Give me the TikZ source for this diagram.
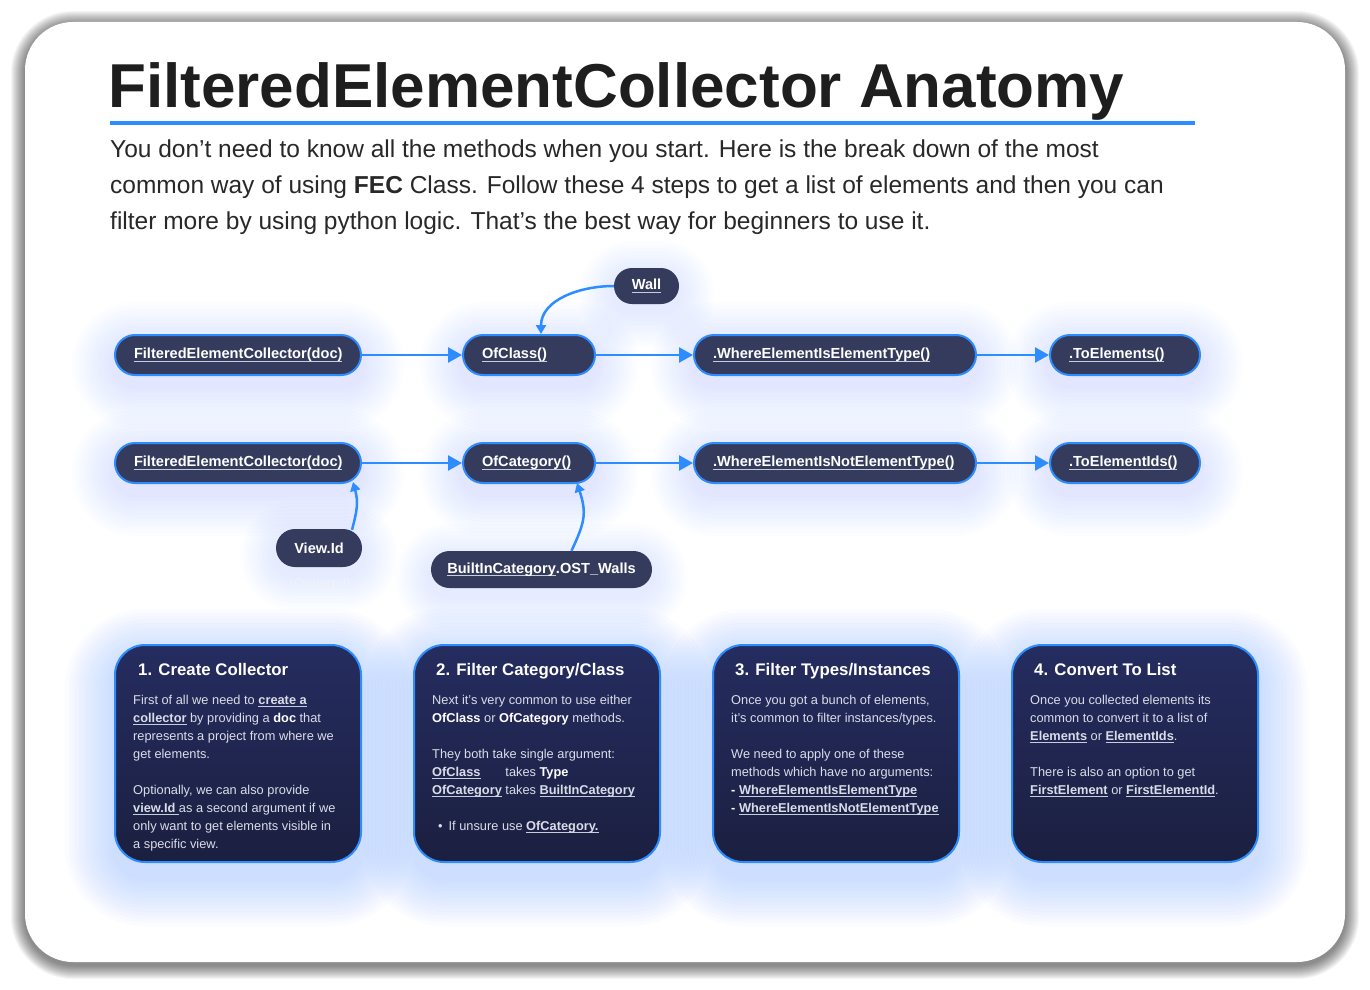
\documentclass[tikz,border=0pt]{standalone}
\usepackage{fontspec}
\setmainfont{Liberation Sans}
\usetikzlibrary{arrows.meta,calc}
\pgfdeclarelayer{background}
\pgfsetlayers{background,main}
\definecolor{bluec}{RGB}{45,140,255}
\definecolor{nodef}{RGB}{53,59,92}
\definecolor{cardtop}{RGB}{37,45,96}
\definecolor{cardbot}{RGB}{27,31,64}
\definecolor{glowc}{RGB}{70,140,255}
\definecolor{titlec}{RGB}{30,30,30}
\definecolor{parac}{RGB}{40,40,40}
\definecolor{bodyc}{RGB}{218,221,232}
\definecolor{ulc}{RGB}{200,205,220}
\definecolor{faintc}{RGB}{238,243,252}
\newsavebox\lkbox
\newcommand\lk[1]{\sbox\lkbox{\textbf{#1}}\rlap{\textcolor{ulc}{\rule[-2.8pt]{\wd\lkbox}{0.8pt}}}\textcolor{white}{\usebox\lkbox}}
\newcommand\bw[1]{\textcolor{white}{\textbf{#1}}}
\newcommand\glow[6]{% node, base radius, steps, step, yshift, opacity
  \foreach \k in {1,...,#3}{
    \pgfmathsetmacro\rr{#2+\k*#4}
    \pgfmathsetmacro\dd{\k*#4}
    \pgfmathsetmacro\ta{\dd-#5}
    \pgfmathsetmacro\tb{-\dd-#5}
    \fill[glowc, opacity=#6, rounded corners=\rr pt] ([shift={(-\dd pt,\ta pt)}]#1.north west) rectangle ([shift={(\dd pt,\tb pt)}]#1.south east);
  }}
\tikzset{
  pill/.style={draw=bluec, line width=2pt, fill=nodef, rounded corners=20pt, minimum height=40pt, inner xsep=19pt, inner ysep=0pt, align=left, text=white, font=\fontsize{14.6}{16}\selectfont\bfseries},
  plainpill/.style={fill=nodef, inner xsep=0pt, inner ysep=0pt, text=white, font=\fontsize{14.6}{16}\selectfont\bfseries},
  card/.style={draw=bluec, line width=2pt, top color=cardtop, bottom color=cardbot, rounded corners=30pt, minimum width=246pt, minimum height=217pt, inner sep=0pt},
  ctitle/.style={anchor=base west, inner sep=0pt, text=white, font=\fontsize{16.8}{20}\selectfont\bfseries},
  cbody/.style={anchor=north west, inner sep=0pt, align=left, text=bodyc, font=\fontsize{12.8}{18}\selectfont},
  ptext/.style={anchor=base west, inner sep=0pt, text=parac, font=\fontsize{24.5}{36}\selectfont},
  conn/.style={draw=bluec, line width=2.5pt, -{Triangle[length=14pt,width=15pt]}},
  carrow/.style={draw=bluec, line width=2.5pt, -{Triangle[length=9pt,width=10pt]}},
}
\begin{document}
\begin{tikzpicture}[x=1pt,y=-1pt]
\useasboundingbox (0,0) rectangle (1370,990);
\begin{pgfonlayer}{background}
  \fill[white] (0,0) rectangle (1370,990);
  \foreach \k in {1,...,14}{
    \pgfmathsetmacro\rr{48+\k}
    \fill[black, opacity=0.04, rounded corners=\rr pt] ({25-\k},{22-\k+3}) rectangle ({1345+\k},{962+\k+3});
  }
  \fill[white, rounded corners=48pt] (25,22) rectangle (1345,962);
\end{pgfonlayer}

% title and intro
\node[anchor=base west, inner sep=0pt, text=titlec, font=\fontsize{62}{62}\selectfont\bfseries] (title) at (108,107) {FilteredElementCollector Anatomy};
\draw[bluec, line width=4pt] (110,123) -- (1195,123);
\node[ptext] (p1) at (110,157) {You don’t need to know all the methods when you start. Here is the break down of the most};
\node[ptext] (p2) at (110,193) {common way of using \textbf{FEC} Class. Follow these 4 steps to get a list of elements and then you can};
\node[ptext] (p3) at (110,229) {filter more by using python logic. That’s the best way for beginners to use it.};

% row 1
\node[pill, text width=208pt] (fec1) at (238,355) {\lk{FilteredElementCollector(doc)}};
\node[pill, text width=94pt] (ofclass) at (529,355) {\lk{OfClass()}};
\node[pill, text width=244pt] (where1) at (835,355) {\lk{.WhereElementIsElementType()}};
\node[pill, text width=112pt] (toel) at (1125,355) {\lk{.ToElements()}};
% row 2
\node[pill, text width=208pt] (fec2) at (238,463) {\lk{FilteredElementCollector(doc)}};
\node[pill, text width=94pt] (ofcat) at (529,463) {\lk{OfCategory()}};
\node[pill, text width=244pt] (where2) at (835,463) {\lk{.WhereElementIsNotElementType()}};
\node[pill, text width=112pt] (toids) at (1125,463) {\lk{.ToElementIds()}};
% arguments
\node[plainpill, minimum width=65pt, minimum height=36pt, rounded corners=18pt] (wall) at (646.5,286) {\lk{Wall}};
\node[plainpill, minimum width=86pt, minimum height=38pt, rounded corners=19pt] (viewid) at (319,548) {View.Id};
\node[plainpill, minimum width=221pt, minimum height=37pt, rounded corners=18.5pt] (builtin) at (541.5,569.5) {\lk{BuiltInCategory}.OST\_Walls};
\node[inner sep=0pt, text=faintc, font=\fontsize{14}{16}\selectfont] (optional) at (320,585) {(Optional)};

% connectors
\draw[conn] (fec1.east) -- (ofclass.west);
\draw[conn] (ofclass.east) -- (where1.west);
\draw[conn] (where1.east) -- (toel.west);
\draw[conn] (fec2.east) -- (ofcat.west);
\draw[conn] (ofcat.east) -- (where2.west);
\draw[conn] (where2.east) -- (toids.west);
\draw[carrow] (wall.west) to[out=180,in=90] ([xshift=12pt]ofclass.north);
\draw[carrow] ([xshift=33pt,yshift=-1pt]viewid.north) to[out=75,in=-75,looseness=1.1] ([xshift=115pt,yshift=2pt]fec2.south);
\draw[carrow] ([xshift=30pt]builtin.north) to[out=65,in=-72,looseness=1.2] ([xshift=48pt,yshift=1pt]ofcat.south);

% cards
\node[card] (card1) at (238,753.5) {};
\node[card] (card2) at (537,753.5) {};
\node[card] (card3) at (836,753.5) {};
\node[card] (card4) at (1135,753.5) {};

\node[ctitle] (c1t) at (138,675) {1. Create Collector};
\node[ctitle] (c2t) at (436,675) {2. Filter Category/Class};
\node[ctitle] (c3t) at (735,675) {3. Filter Types/Instances};
\node[ctitle] (c4t) at (1034,675) {4. Convert To List};

\node[cbody] (c1b) at (133,694.8) {First of all we need to \lk{create a}\\
\lk{collector} by providing a \bw{doc} that\\
represents a project from where we\\
get elements.\\[18pt]
Optionally, we can also provide\\
\lk{view.Id\ }as a second argument if we\\
only want to get elements visible in\\
a specific view.};

\node[cbody] (c2b) at (432,694.8) {Next it’s very common to use either\\
\bw{OfClass} or \bw{OfCategory} methods.\\[18pt]
They both take single argument:\\
\rlap{\lk{OfClass}}\hphantom{\textbf{OfCategory}} takes \bw{Type}\\
\lk{OfCategory} takes \lk{BuiltInCategory}\\[18pt]
\hspace*{6pt}\textbullet\hspace{6pt}If unsure use \lk{OfCategory.}};

\node[cbody] (c3b) at (731,694.8) {Once you got a bunch of elements,\\
it’s common to filter instances/types.\\[18pt]
We need to apply one of these\\
methods which have no arguments:\\
\bw{-} \lk{WhereElementIsElementType}\\
\bw{-} \lk{WhereElementIsNotElementType}};

\node[cbody] (c4b) at (1030,694.8) {Once you collected elements its\\
common to convert it to a list of\\
\lk{Elements} or \lk{ElementIds}.\\[18pt]
There is also an option to get\\
\lk{FirstElement} or \lk{FirstElementId}.};

% glows
\begin{pgfonlayer}{background}
  \foreach \n in {fec1,ofclass,where1,toel,fec2,ofcat,where2,toids}{
    \glow{\n}{20}{12}{3.5}{10}{0.013}
  }
  \foreach \n in {wall,viewid,builtin}{
    \glow{\n}{18}{10}{3.5}{8}{0.01}
  }
  \foreach \n in {card1,card2,card3,card4}{
    \glow{\n}{30}{14}{3.5}{14}{0.018}
  }
\end{pgfonlayer}
\end{tikzpicture}
\end{document}
